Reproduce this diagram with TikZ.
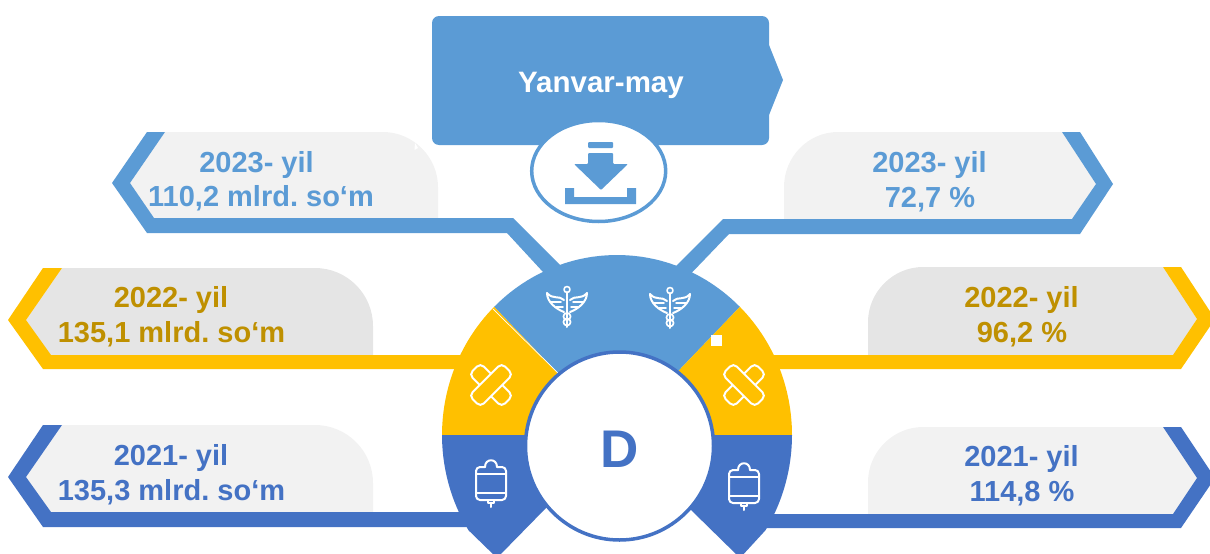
\documentclass[tikz,border=0pt]{standalone}
\usepackage{fontspec}
\setmainfont{Liberation Sans}
\definecolor{lblue}{HTML}{5B9BD5}
\definecolor{yel}{HTML}{FFC000}
\definecolor{dblue}{HTML}{4472C4}
\definecolor{gold}{HTML}{BF9000}
\definecolor{gA}{HTML}{F2F2F2}
\definecolor{gB}{HTML}{E5E5E5}
\tikzset{
  lbl/.style={anchor=base,inner sep=0pt,font=\frenchspacing\fontsize{29}{34}\selectfont\bfseries},
  icon/.style={draw=white,line width=2pt,line join=round,line cap=round}
}
\newcommand{\caduceus}[2]{%
\begin{scope}[shift={(#1,#2)},icon]
  \draw (0,-15)--(0,20);
  \draw[line width=1.6pt] (0,-17.5) circle[radius=3];
  \foreach \s in {1,-1}{
    \begin{scope}[xscale=\s]
      \draw (-3,-7) .. controls (-8,-12) and (-14,-7) .. (-20,-14) .. controls (-20,-5) and (-11,2) .. (-3,5);
      \draw[line width=1.5pt] (-16,-5)--(-6,-5);
      \draw[line width=1.5pt] (-11,0)--(-4,0);
    \end{scope}}
  \draw[line width=1.7pt] (0,9.5) circle[radius=3.6];
  \draw[line width=1.7pt] (0,15) circle[radius=3.6];
\end{scope}}
\newcommand{\bandage}[3]{%
\begin{scope}[shift={(#1,#2)},icon,xscale=#3]
  \draw[rotate=45,rounded corners=5pt] (-8,-23) rectangle (8,23);
  \draw[fill=yel,rotate=-45,rounded corners=5pt] (-8,-23) rectangle (8,23);
\end{scope}}
\newcommand{\ivbag}[2]{%
\begin{scope}[shift={(#1,#2)},icon]
  \draw[rounded corners=4pt] (-6,-16) -- (-15,-16) -- (-15,17) -- (15,17) -- (15,-16) -- (6,-16);
  \draw (-6,-16) .. controls (-6,-25) and (6,-25) .. (6,-16);
  \draw (-15,-9)--(15,-9);
  \draw (-15,10)--(15,10);
  \draw (-3,17)--(-3,20)--(3,20)--(3,17);
  \draw (0,20)--(0,24);
\end{scope}}
\begin{document}
\begin{tikzpicture}[x=1pt,y=-1pt]
\useasboundingbox (0,0) rectangle (1210,554);
\clip (0,0) rectangle (1210,554);
% grey panels
\fill[gA] (165,132) -- (383,132) .. controls (413,132) and (438,157) .. (438,187) -- (438,220) -- (154,220) -- (130,183) -- cycle;
\fill[white] (414.5,150) -- (415,143) -- (418,148) -- cycle;
\fill[gB] (62,268) -- (315,268) .. controls (347,268) and (373,294) .. (373,326) -- (373,357) -- (51,357) -- (26,320) -- cycle;
\fill[gA] (62,425) -- (315,425) .. controls (347,425) and (373,451) .. (373,483) -- (373,514) -- (51,514) -- (26,477) -- cycle;
\fill[gA] (1062,132) -- (838,132) .. controls (808,132) and (784,157) .. (784,187) -- (784,220) -- (1072,220) -- (1096,184) -- cycle;
\fill[gB] (1163,267) -- (923,267) .. controls (893,267) and (868,292) .. (868,322) -- (868,356) -- (1173,356) -- (1197,319) -- cycle;
\fill[gA] (1163,427) -- (923,427) .. controls (893,427) and (868,452) .. (868,482) -- (868,516) -- (1173,516) -- (1197,478) -- cycle;
% connectors
\fill[lblue] (147,132) -- (165,132) -- (130,183) -- (154,218) -- (513,218) -- (570,275) -- (555,285) -- (507,233) -- (147,233) -- (112,183) -- cycle;
\fill[lblue] (1080,132) -- (1062,132) -- (1096,184) -- (1072,219) -- (723,219) -- (667,275) -- (680,285) -- (729,234) -- (1080,234) -- (1113,184) -- cycle;
\fill[yel] (43,268) -- (62,268) -- (26,320) -- (51,355) -- (480,355) -- (480,369) -- (43,369) -- (8,320) -- cycle;
\fill[yel] (1181,267) -- (1163,267) -- (1197,319) -- (1173,355) -- (760,355) -- (760,369) -- (1181,369) -- (1215,319) -- cycle;
\fill[dblue] (43,425) -- (62,425) -- (26,477) -- (51,512) -- (480,512) -- (480,527) -- (43,527) -- (8,477) -- cycle;
\fill[dblue] (1181,427) -- (1163,427) -- (1197,478) -- (1173,514) -- (750,514) -- (750,528) -- (1181,528) -- (1215,478) -- cycle;
% top box
\fill[lblue,rounded corners=7pt] (432,16) rectangle (769,145);
\fill[lblue] (760,45) -- (769,45) -- (783,80) -- (769,115) -- (760,115) -- cycle;
% sectors
\fill[lblue] (617,435) -- plot[domain=134.6:45.4,samples=40] ({617+175*cos(\x)},{435-180*sin(\x)}) -- cycle;
\fill[yel] (617,435) -- plot[domain=180:134.6,samples=30] ({617+175*cos(\x)},{435-180*sin(\x)}) -- cycle;
\fill[yel] (617,435) -- plot[domain=45.4:0,samples=30] ({617+175*cos(\x)},{435-180*sin(\x)}) -- cycle;
\fill[dblue] (617,435) -- plot[domain=180:212,samples=20] ({617+175*cos(\x)},{435-180*sin(\x)}) -- (497,558) -- (547,507) -- (619,446) -- cycle;
\fill[dblue] (617,435) -- plot[domain=0:-32,samples=20] ({617+175*cos(\x)},{435-180*sin(\x)}) -- (740,558) -- (690,509) -- (619,446) -- cycle;
\draw[white,line width=0.7pt] (493,309) -- (559,374);
% centre
\draw[dblue,fill=white,line width=3.5pt] (619.5,446) circle[radius=94];
\fill[white] (710.5,334.5) rectangle (721.5,345.5);
% icons
\caduceus{567}{307}
\caduceus{670}{308}
\bandage{491}{385}{1}
\bandage{744}{385}{-1}
\ivbag{491}{483}
\ivbag{744}{486}
% download
\draw[lblue,fill=white,line width=3.5pt] (598.7,171) ellipse[x radius=67,y radius=50.5];
\fill[lblue,rounded corners=1pt] (588,142) rectangle (613,148);
\fill[lblue,rounded corners=1pt] (588,153) -- (613,153) -- (613,164) -- (628,164) -- (601,190) -- (574,164) -- (588,164) -- cycle;
\fill[lblue] (565,188) -- (574,188) -- (574,197) -- (627,197) -- (627,188) -- (636,188) -- (636,204) -- (565,204) -- cycle;
% labels
\node[lbl,text=white,font=\fontsize{29.5}{34}\selectfont\bfseries] (title) at (601,92) {Yanvar-may};
\node[lbl,text=lblue] (a1) at (256.5,172) {2023- yil};
\node[lbl,text=lblue] (a2) at (261,206) {110,2 mlrd. so‘m};
\node[lbl,text=gold] (b1) at (171,307) {2022- yil};
\node[lbl,text=gold] (b2) at (171.5,342) {135,1 mlrd. so‘m};
\node[lbl,text=dblue] (c1) at (171,465) {2021- yil};
\node[lbl,text=dblue] (c2) at (171.5,500) {135,3 mlrd. so‘m};
\node[lbl,text=lblue] (d1) at (929.5,172) {2023- yil};
\node[lbl,text=lblue] (d2) at (930,207) {72,7 \%};
\node[lbl,text=gold] (e1) at (1021.5,307) {2022- yil};
\node[lbl,text=gold] (e2) at (1022,342) {96,2 \%};
\node[lbl,text=dblue] (f1) at (1021.5,466) {2021- yil};
\node[lbl,text=dblue] (f2) at (1022,501) {114,8 \%};
\node[anchor=base,inner sep=0pt,text=dblue,font=\fontsize{53}{60}\selectfont\bfseries] (centre) at (620,467) {D};
\end{tikzpicture}
\end{document}
